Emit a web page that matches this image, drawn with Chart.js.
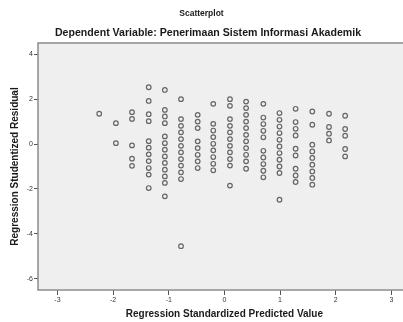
<!DOCTYPE html>
<html>
<head>
<meta charset="utf-8">
<script src="https://cdn.jsdelivr.net/npm/chart.js@4/dist/chart.umd.min.js"></script>
<style>
  html, body { margin: 0; padding: 0; background: #ffffff; overflow: hidden; }
  #wrap { width: 403px; height: 322px; overflow: hidden; position: relative; }
  canvas { display: block; }
</style>
</head>
<body>
<div id="wrap"><canvas id="c" width="416" height="322"></canvas></div>
<script>
// ---- Data ----
const chartTitle = "Scatterplot";
const chartSubtitle = "Dependent Variable: Penerimaan Sistem Informasi Akademik";
const xAxisTitle = "Regression Standardized Predicted Value";
const yAxisTitle = "Regression Studentized Residual";

const xTickValues = [-3, -2, -1, 0, 1, 2, 3];
const yTickValues = [-6, -4, -2, 0, 2, 4];

// Standardized predicted value of each vertical column of points
const predictedValues = [-2.25, -1.95, -1.66, -1.36, -1.07, -0.78, -0.48, -0.20,
                          0.10, 0.39, 0.70, 0.99, 1.28, 1.58, 1.88, 2.17];

// Studentized residuals in each column
const resCol01 = [1.35];
const resCol02 = [0.93, 0.04];
const resCol03 = [1.42, 1.12, -0.06, -0.65, -0.97];
const resCol04 = [2.53, 1.92, 1.33, 1.02, 0.13, -0.16, -0.46, -0.76, -1.07, -1.36, -1.96];
const resCol05 = [2.41, 1.52, 1.23, 0.93, 0.34, 0.04, -0.25, -0.55, -0.84, -1.14, -1.44, -1.73, -2.33];
const resCol06 = [2.00, 1.11, 0.81, 0.52, 0.22, -0.08, -0.37, -0.67, -0.96, -1.26, -1.56, -4.55];
const resCol07 = [1.30, 1.00, 0.71, 0.12, -0.18, -0.48, -0.77, -1.07];
const resCol08 = [1.79, 0.90, 0.60, 0.31, 0.01, -0.28, -0.58, -0.88, -1.17];
const resCol09 = [2.00, 1.70, 1.11, 0.81, 0.52, 0.22, -0.08, -0.37, -0.67, -0.96, -1.85];
const resCol10 = [1.89, 1.60, 1.30, 1.00, 0.71, 0.41, 0.12, -0.18, -0.48, -0.77, -1.10];
const resCol11 = [1.79, 1.18, 0.89, 0.59, 0.30, -0.30, -0.60, -0.89, -1.19, -1.48];
const resCol12 = [1.38, 1.08, 0.78, 0.49, 0.19, -0.11, -0.40, -0.70, -1.00, -1.29, -2.48];
const resCol13 = [1.57, 0.98, 0.68, 0.38, -0.21, -0.51, -1.10, -1.40, -1.69];
const resCol14 = [1.45, 0.86, -0.03, -0.33, -0.62, -0.92, -1.22, -1.51, -1.81];
const resCol15 = [1.35, 0.76, 0.46, 0.16];
const resCol16 = [1.26, 0.67, 0.37, -0.22, -0.55];

const residualColumns = [resCol01, resCol02, resCol03, resCol04, resCol05, resCol06, resCol07, resCol08,
                         resCol09, resCol10, resCol11, resCol12, resCol13, resCol14, resCol15, resCol16];

// Build point table for the library
const points = [];
residualColumns.forEach((col, i) => {
  col.forEach(r => points.push({ x: predictedValues[i], y: r }));
});

// ---- Chart ----
Chart.defaults.font.family = '"Liberation Sans", Arial, sans-serif';

const framePlugin = {
  id: 'frame',
  beforeDraw(chart) {
    const { ctx, chartArea: a } = chart;
    ctx.save();
    ctx.fillStyle = '#ffffff';
    ctx.fillRect(0, 0, chart.width, chart.height);
    ctx.fillStyle = '#efefef';
    ctx.fillRect(a.left, a.top, a.right - a.left, a.bottom - a.top);
    ctx.restore();
  },
  afterDraw(chart) {
    const { ctx, chartArea: a } = chart;
    ctx.save();
    ctx.strokeStyle = '#8c8c8c';
    ctx.lineWidth = 1.5;
    ctx.strokeRect(a.left, a.top, a.right - a.left, a.bottom - a.top);
    ctx.fillStyle = '#1a1a1a';
    ctx.textAlign = 'center';
    ctx.textBaseline = 'middle';
    ctx.font = 'bold 8.5px "Liberation Sans", Arial, sans-serif';
    ctx.fillText(chartTitle, 201.5, 14);
    ctx.font = 'bold 10.6px "Liberation Sans", Arial, sans-serif';
    ctx.fillText(chartSubtitle, 208, 33);
    ctx.restore();
  }
};

new Chart(document.getElementById('c'), {
  type: 'scatter',
  data: {
    datasets: [{
      data: points,
      pointStyle: 'circle',
      pointRadius: 2.3,
      pointBorderWidth: 1.2,
      pointBorderColor: 'rgba(55,55,55,0.75)',
      pointBackgroundColor: 'rgba(0,0,0,0)',
      showLine: false
    }]
  },
  options: {
    responsive: false,
    devicePixelRatio: 1,
    animation: false,
    layout: { padding: { top: 43, right: 4, left: 0, bottom: 0 } },
    plugins: {
      legend: { display: false },
      title: { display: false },
      tooltip: { enabled: false }
    },
    scales: {
      x: {
        type: 'linear',
        min: -3.35,
        max: 3.35,
        afterBuildTicks: s => { s.ticks = xTickValues.map(v => ({ value: v })); },
        afterFit: s => { s.height = 32; },
        grid: { drawOnChartArea: false, drawTicks: true, tickLength: 5, tickColor: '#555555', tickWidth: 1 },
        border: { display: false },
        ticks: { font: { size: 7 }, color: '#333333', padding: 1, maxRotation: 0, autoSkip: false },
        title: { display: true, text: xAxisTitle, color: '#1a1a1a',
                 font: { size: 10, weight: 'bold' }, padding: { top: 0, bottom: 2 } }
      },
      y: {
        type: 'linear',
        min: -6.5,
        max: 4.5,
        afterBuildTicks: s => { s.ticks = yTickValues.map(v => ({ value: v })); },
        afterFit: s => { s.width = 38; },
        grid: { drawOnChartArea: false, drawTicks: true, tickLength: 4, tickColor: '#555555', tickWidth: 1 },
        border: { display: false },
        ticks: { font: { size: 7 }, color: '#333333', padding: 1, autoSkip: false },
        title: { display: true, text: yAxisTitle, color: '#1a1a1a',
                 font: { size: 10, weight: 'bold' }, padding: { top: 9, bottom: 0 } }
      }
    }
  },
  plugins: [framePlugin]
});
</script>
</body>
</html>
